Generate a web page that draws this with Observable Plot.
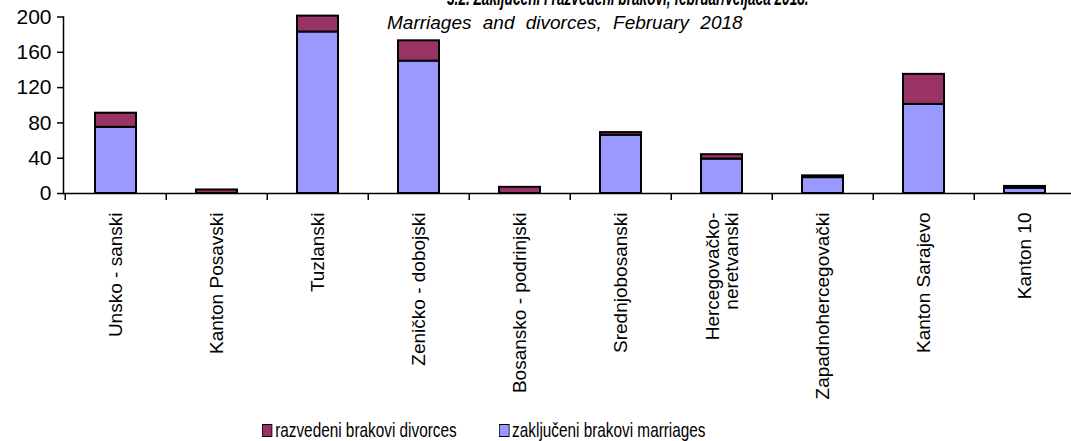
<!DOCTYPE html>
<html><head><meta charset="utf-8">
<script src="https://cdn.jsdelivr.net/npm/d3@7"></script>
<script src="https://cdn.jsdelivr.net/npm/@observablehq/plot@0.6"></script>
<style>
body{margin:0;background:#fff;}
#wrap{position:relative;width:1071px;height:441px;overflow:hidden;font-family:"Liberation Sans",Arial,sans-serif;color:#000;}
#chart{position:absolute;left:0;top:0;}
#title{position:absolute;top:-15px;left:447px;font-size:22px;font-weight:bold;font-style:italic;white-space:nowrap;transform:scaleX(0.62);transform-origin:left top;}
#subtitle{position:absolute;top:12px;left:387px;font-size:19px;font-style:italic;word-spacing:6px;white-space:nowrap;}
#legend{position:absolute;top:418px;left:262px;display:flex;align-items:center;font-size:21px;white-space:nowrap;transform:scaleX(0.73);transform-origin:left top;}
.item{display:flex;align-items:center;margin-right:58px;}
.sw{width:12px;height:11px;border:1.5px solid #000;margin-right:4px;}
</style></head>
<body><div id="wrap"><div id="chart"></div>
<div id="title">3.2. Zaključeni i razvedeni brakovi, februar/veljača 2018.</div>
<div id="subtitle">Marriages and divorces, February 2018</div>
<div id="legend"></div></div>
<script>
const categories = ["Unsko - sanski","Kanton Posavski","Tuzlanski","Zeničko - dobojski","Bosansko - podrinjski","Srednjobosanski","Hercegovačko-\nneretvanski","Zapadnohercegovački","Kanton Sarajevo","Kanton 10"];
const marriages = [75,0,183,150,0,66,39,18,101,6];
const divorces = [16,4,18,23,7,3,5,2,34,2];
const seriesKeys = ["zaključeni brakovi marriages","razvedeni brakovi divorces"];
const legendOrder = ["razvedeni brakovi divorces","zaključeni brakovi marriages"];
const seriesColors = ["#9999FF","#993366"];
const yTicks = [0,40,80,120,160,200];

const rows = categories.flatMap((c,i)=>[
  {cat:c, series:seriesKeys[0], value:marriages[i]},
  {cat:c, series:seriesKeys[1], value:divorces[i]}
]);

const step = (1078-63)/categories.length;
const chart = Plot.plot({
  width:1071, height:415,
  marginTop:16.5, marginBottom:222, marginLeft:63, marginRight:0,
  style:{fontFamily:'"Liberation Sans",Arial,sans-serif', color:"#000", background:"transparent", overflow:"visible"},
  x:{type:"band", domain:categories, range:[63,1078], paddingInner:0.59, paddingOuter:0.295, label:null},
  y:{domain:[0,200], label:null},
  color:{domain:seriesKeys, range:seriesColors},
  marks:[
    Plot.barY(rows,{x:"cat", y:"value", fill:"series", stroke:"#000", strokeWidth:2, order:seriesKeys}),
    Plot.ruleY([0],{stroke:"#000", strokeWidth:1.5}),
    Plot.frame({anchor:"left", stroke:"#000", strokeWidth:1.5}),
    Plot.axisY({ticks:yTicks, tickSize:6, tickPadding:6, fontSize:21, strokeWidth:1.5, label:null}),
    Plot.axisX({tickSize:7, tickFormat:()=>"", dx:-step/2, strokeWidth:1.5, label:null}),
    Plot.axisX({tickSize:0, tickPadding:19, tickRotate:-90, fontSize:19, lineHeight:1.0, label:null})
  ]
});
document.getElementById("chart").appendChild(chart);

const leg = document.getElementById("legend");
legendOrder.forEach(k=>{
  const it=document.createElement("div"); it.className="item";
  const sw=document.createElement("div"); sw.className="sw"; sw.style.background=seriesColors[seriesKeys.indexOf(k)];
  const tx=document.createElement("span"); tx.textContent=k;
  it.appendChild(sw); it.appendChild(tx); leg.appendChild(it);
});
</script></body></html>
